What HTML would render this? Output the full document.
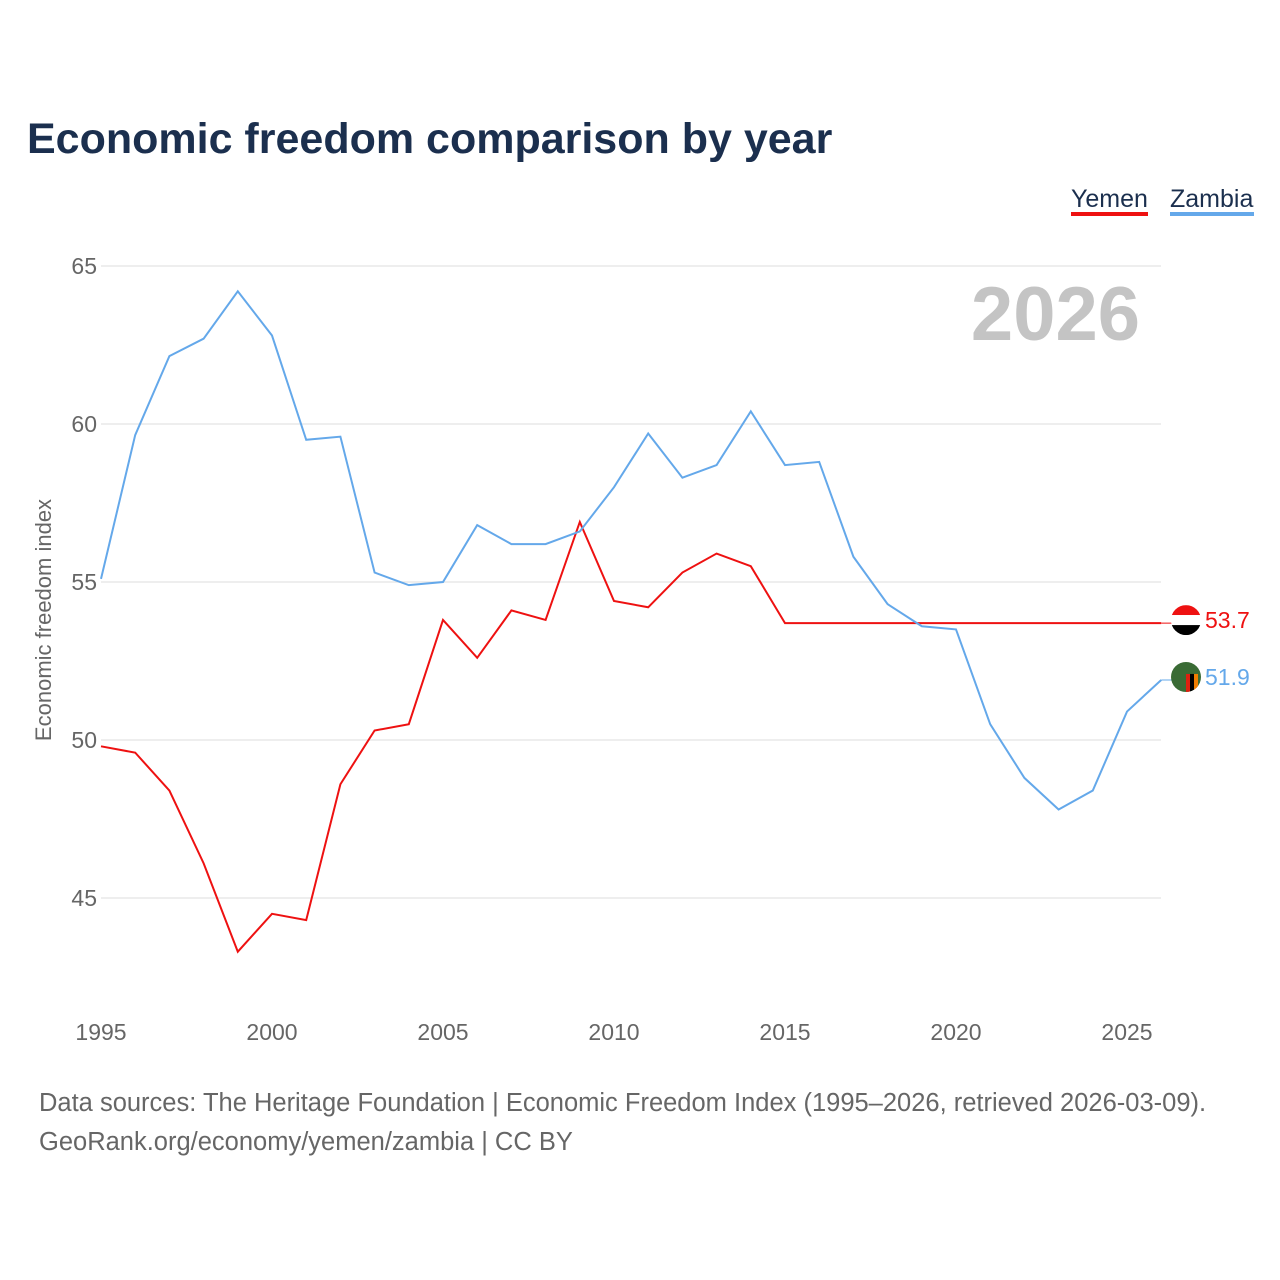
<!DOCTYPE html>
<html><head><meta charset="utf-8"><style>
body{margin:0;background:#fff;font-family:"Liberation Sans",sans-serif;}
#wrap{position:relative;width:1280px;height:1280px;overflow:hidden;}
</style></head><body>
<div id="wrap">
<svg id="chart" width="1280" height="1280" xmlns="http://www.w3.org/2000/svg"></svg>
</div>
<script>
const years=[1995,1996,1997,1998,1999,2000,2001,2002,2003,2004,2005,2006,2007,2008,2009,2010,2011,2012,2013,2014,2015,2016,2017,2018,2019,2020,2021,2022,2023,2024,2025,2026];
const zambia=[55.1,59.65,62.15,62.7,64.2,62.8,59.5,59.6,55.3,54.9,55.0,56.8,56.2,56.2,56.6,58.0,59.7,58.3,58.7,60.4,58.7,58.8,55.8,54.3,53.6,53.5,50.5,48.8,47.8,48.4,50.9,51.9];
const yemen=[49.8,49.6,48.4,46.1,43.3,44.5,44.3,48.6,50.3,50.5,53.8,52.6,54.1,53.8,56.9,54.4,54.2,55.3,55.9,55.5,53.7,53.7,53.7,53.7,53.7,53.7,53.7,53.7,53.7,53.7,53.7,53.7];
const yTicks=[45,50,55,60,65];
const xTicks=[1995,2000,2005,2010,2015,2020,2025];
const NS="http://www.w3.org/2000/svg";
const svg=document.getElementById('chart');
const X=y=>101+(y-1995)*(1127-101)/30;
const Y=v=>266+(65-v)*31.6;
function mk(t,a,txt){const e=document.createElementNS(NS,t);for(const k in a)e.setAttribute(k,a[k]);if(txt!==undefined)e.textContent=txt;svg.appendChild(e);return e;}
let e;
e=mk('text',{x:27,y:153,'font-size':43,'font-weight':'bold',fill:'#1b2f4e'},'Economic freedom comparison by year');


yTicks.forEach(t=>{
 e=mk('line',{x1:101,x2:1161,y1:Y(t),y2:Y(t),stroke:'#e8e8e8','stroke-width':1.5});
 
 
 e=mk('text',{x:97,y:Y(t)+8,'text-anchor':'end','font-size':23,fill:'#666'},t);
 
 
});
xTicks.forEach(t=>{
 e=mk('text',{x:X(t),y:1040,'text-anchor':'middle','font-size':23,fill:'#666'},t);
 
 
});
e=mk('text',{x:51,y:620,'text-anchor':'middle','font-size':22,fill:'#666',transform:'rotate(-90 51 620)'},'Economic freedom index');


e=mk('text',{x:1140,y:340,'text-anchor':'end','font-size':76,'font-weight':'bold',fill:'#c4c4c4'},'2026');


function line(data,col,name){
 const d=data.map((v,i)=>(i?'L':'M')+X(years[i])+','+Y(v)).join('');
 e=mk('path',{d:d,fill:'none',stroke:col,'stroke-width':2});
 
 
}
line(yemen,'#ee1111','yemen-line');
line(zambia,'#64a8ea','zambia-line');
const lastY=yemen[yemen.length-1], lastZ=zambia[zambia.length-1];
e=mk('line',{x1:X(2026),x2:1186,y1:Y(lastY),y2:Y(lastY),stroke:'#ee1111','stroke-width':1});


e=mk('line',{x1:X(2026),x2:1186,y1:Y(lastZ),y2:Y(lastZ),stroke:'#64a8ea','stroke-width':1});


const fy=Y(lastY)-3;
const fz=Y(lastZ)-3;
mk('defs',{}).innerHTML='<clipPath id="c1"><circle cx="1186" cy="'+fy+'" r="15"/></clipPath><clipPath id="c2"><circle cx="1186" cy="'+fz+'" r="15"/></clipPath>';
e=mk('g',{'clip-path':'url(#c1)'});


e.innerHTML='<rect x="1171" y="'+(fy-15)+'" width="30" height="10" fill="#ee1111"/><rect x="1171" y="'+(fy-5)+'" width="30" height="10" fill="#fff"/><rect x="1171" y="'+(fy+5)+'" width="30" height="10" fill="#000"/>';
e=mk('g',{'clip-path':'url(#c2)'});


e.innerHTML='<rect x="1171" y="'+(fz-15)+'" width="30" height="30" fill="#3a6b35"/><rect x="1186" y="'+(fz-3)+'" width="4" height="18" fill="#de2010"/><rect x="1190" y="'+(fz-3)+'" width="4" height="18" fill="#000"/><rect x="1194" y="'+(fz-3)+'" width="4" height="18" fill="#ef7d00"/>';
e=mk('text',{x:1205,y:fy+8,'font-size':23,fill:'#ee1111'},lastY.toFixed(1));


e=mk('text',{x:1205,y:fz+8,'font-size':23,fill:'#64a8ea'},lastZ.toFixed(1));


e=mk('text',{x:1071,y:207,'font-size':25,fill:'#1b2f4e'},'Yemen');


mk('rect',{x:1071,y:212,width:77,height:4,fill:'#ee1111'});
e=mk('text',{x:1170,y:207,'font-size':25,fill:'#1b2f4e'},'Zambia');


mk('rect',{x:1170,y:212,width:84,height:4,fill:'#64a8ea'});
e=mk('text',{x:39,y:1111,'font-size':25.5,fill:'#666'},'Data sources: The Heritage Foundation | Economic Freedom Index (1995–2026, retrieved 2026-03-09).');


e=mk('text',{x:39,y:1150,'font-size':25.5,fill:'#666'},'GeoRank.org/economy/yemen/zambia | CC BY');


</script>
</body></html>
